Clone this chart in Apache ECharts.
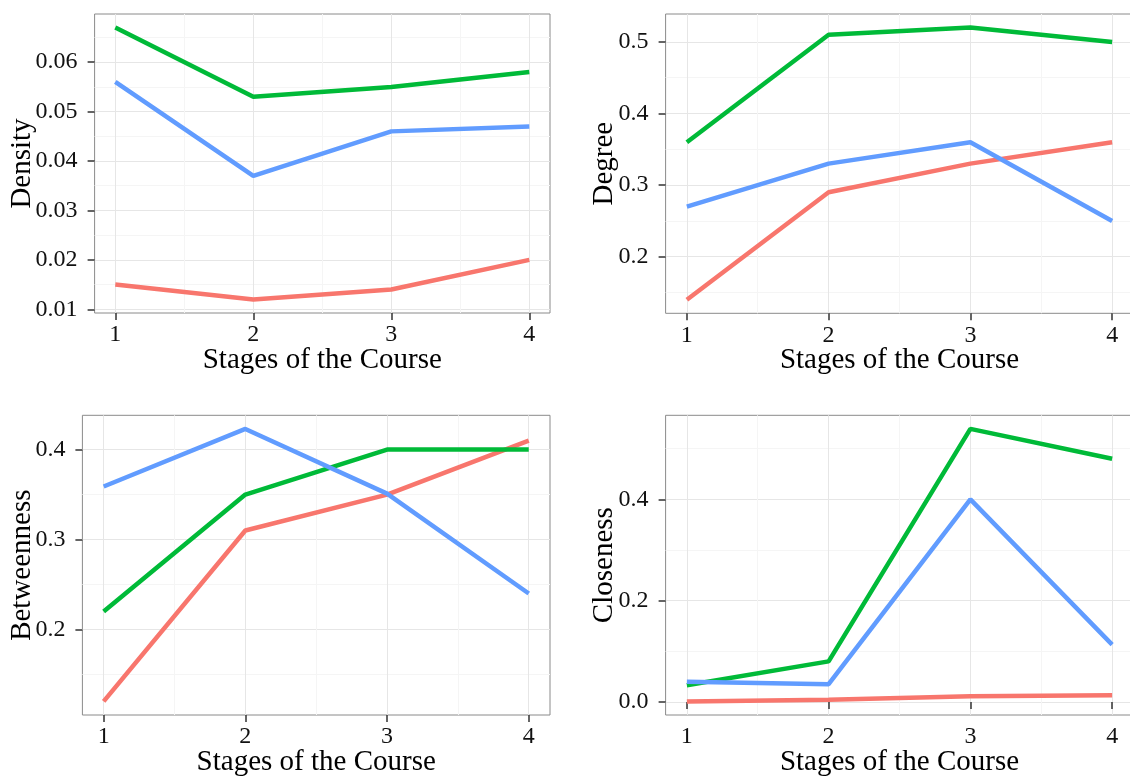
<!DOCTYPE html>
<html>
<head>
<meta charset="utf-8">
<title>Network measures by stage of the course</title>
<script src="https://cdn.jsdelivr.net/npm/echarts@6/dist/echarts.min.js"></script>
<style>
  html, body { margin: 0; padding: 0; background: #fff; }
  #main { width: 1130px; height: 776px; }
</style>
</head>
<body>
<div id="main"></div>
<script>
// values, one array per coloured line
var stages = [1, 2, 3, 4];

var densityRed = [0.015, 0.012, 0.014, 0.020];
var densityGreen = [0.067, 0.053, 0.055, 0.058];
var densityBlue = [0.056, 0.037, 0.046, 0.047];

var degreeRed = [0.14, 0.29, 0.33, 0.36];
var degreeGreen = [0.36, 0.51, 0.52, 0.50];
var degreeBlue = [0.27, 0.33, 0.36, 0.25];

var betweenRed = [0.12, 0.31, 0.35, 0.41];
var betweenGreen = [0.22, 0.35, 0.40, 0.40];
var betweenBlue = [0.359, 0.423, 0.351, 0.24];

var closeRed = [0.001, 0.004, 0.011, 0.013];
var closeGreen = [0.033, 0.080, 0.539, 0.480];
var closeBlue = [0.040, 0.035, 0.400, 0.113];

// tick labels and grid lines
var densityTicks = [0.01, 0.02, 0.03, 0.04, 0.05, 0.06];
var densityMinor = [0.015, 0.025, 0.035, 0.045, 0.055, 0.065];
var degreeTicks = [0.2, 0.3, 0.4, 0.5];
var degreeMinor = [0.15, 0.25, 0.35, 0.45];
var betweenTicks = [0.2, 0.3, 0.4];
var betweenMinor = [0.15, 0.25, 0.35];
var closeTicks = [0.0, 0.2, 0.4];
var closeMinor = [0.1, 0.3, 0.5];
var stageMinor = [1.5, 2.5, 3.5];

var colors = ['#F8766D', '#00BA38', '#619CFF'];
var groupNames = ['group 1', 'group 2', 'group 3'];
var font = '"Liberation Serif", "Times New Roman", serif';

var panels = [
  {title: 'Density', lines: [densityRed, densityGreen, densityBlue], ticks: densityTicks, minor: densityMinor, digits: 2,
   box: {left: 94.6, top: 14, width: 455.4, height: 299}, nameGap: 58},
  {title: 'Degree', lines: [degreeRed, degreeGreen, degreeBlue], ticks: degreeTicks, minor: degreeMinor, digits: 1,
   box: {left: 665.6, top: 14, width: 467.8, height: 299.3}, nameGap: 47},
  {title: 'Betweenness', lines: [betweenRed, betweenGreen, betweenBlue], ticks: betweenTicks, minor: betweenMinor, digits: 1,
   box: {left: 82.4, top: 415.3, width: 467.6, height: 299.7}, nameGap: 46},
  {title: 'Closeness', lines: [closeRed, closeGreen, closeBlue], ticks: closeTicks, minor: closeMinor, digits: 1,
   box: {left: 665.6, top: 415.3, width: 467.8, height: 299.7}, nameGap: 47}
];

// ggplot-style 5% expansion of a range
function expand(lo, hi) {
  var d = (hi - lo) * 0.05;
  return [lo - d, hi + d];
}

var grids = [], xAxes = [], yAxes = [], series = [];
var xr = expand(stages[0], stages[stages.length - 1]);

panels.forEach(function (p, i) {
  var all = [].concat.apply([], p.lines);
  var yr = expand(Math.min.apply(null, all), Math.max.apply(null, all));

  grids.push({
    left: p.box.left, top: p.box.top, width: p.box.width, height: p.box.height,
    outerBoundsMode: 'none',
    show: true, borderColor: '#8a8a8a', borderWidth: 1, backgroundColor: '#fff'
  });

  // minor grid lines first, so the major ones sit above
  xAxes.push({
    type: 'value', gridIndex: i, min: xr[0], max: xr[1], position: 'bottom',
    axisLine: {show: false}, axisLabel: {show: false},
    axisTick: {show: false, customValues: stageMinor},
    splitLine: {show: true, lineStyle: {color: '#f5f5f5', width: 1}}
  });
  xAxes.push({
    type: 'value', gridIndex: i, min: xr[0], max: xr[1], position: 'bottom',
    name: 'Stages of the Course', nameLocation: 'middle', nameGap: 33, nameMoveOverlap: false,
    nameTextStyle: {fontFamily: font, fontSize: 29, color: '#000'},
    axisLine: {show: false},
    axisTick: {show: true, length: 7, customValues: stages, lineStyle: {color: '#333', width: 1.5}},
    axisLabel: {show: true, customValues: stages, margin: 10, fontFamily: font, fontSize: 24, color: '#111'},
    splitLine: {show: true, lineStyle: {color: '#e6e6e6', width: 1}}
  });

  yAxes.push({
    type: 'value', gridIndex: i, min: yr[0], max: yr[1], position: 'left',
    axisLine: {show: false}, axisLabel: {show: false},
    axisTick: {show: false, customValues: p.minor},
    splitLine: {show: true, lineStyle: {color: '#f5f5f5', width: 1}}
  });
  yAxes.push({
    type: 'value', gridIndex: i, min: yr[0], max: yr[1], position: 'left',
    name: p.title, nameLocation: 'middle', nameGap: p.nameGap, nameRotate: 90, nameMoveOverlap: false,
    nameTextStyle: {fontFamily: font, fontSize: 29, color: '#000'},
    axisLine: {show: false},
    axisTick: {show: true, length: 7, customValues: p.ticks, lineStyle: {color: '#333', width: 1.5}},
    axisLabel: {
      show: true, customValues: p.ticks, margin: 17, fontFamily: font, fontSize: 24, color: '#111',
      formatter: (function (dg) { return function (v) { return v.toFixed(dg); }; })(p.digits)
    },
    splitLine: {show: true, lineStyle: {color: '#e6e6e6', width: 1}}
  });

  p.lines.forEach(function (vals, k) {
    series.push({
      name: groupNames[k],
      type: 'line',
      xAxisIndex: 2 * i + 1,
      yAxisIndex: 2 * i + 1,
      data: stages.map(function (s, j) { return [s, vals[j]]; }),
      symbol: 'none',
      lineStyle: {color: colors[k], width: 4.5},
      itemStyle: {color: colors[k]},
      silent: true
    });
  });
});

var myChart = echarts.init(document.getElementById('main'));
myChart.setOption({
  backgroundColor: '#fff',
  animation: false,
  grid: grids,
  xAxis: xAxes,
  yAxis: yAxes,
  series: series
});
</script>
</body>
</html>
